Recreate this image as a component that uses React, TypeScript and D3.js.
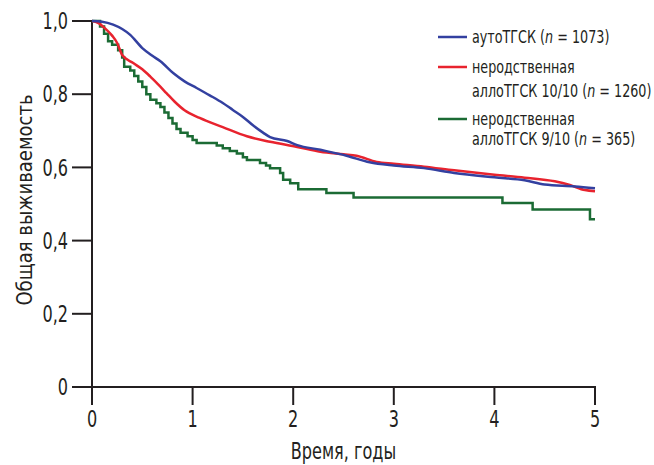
import React, { useEffect, useRef } from "react";
import * as d3 from "d3";

// time in years, overall survival
const autoT = [0, 0.1, 0.21, 0.3, 0.38, 0.5, 0.6, 0.68, 0.81, 0.92, 1.04, 1.17, 1.3, 1.4, 1.5, 1.6, 1.7, 1.77, 1.94, 2.04, 2.27, 2.53, 2.76, 3.0, 3.3, 3.6, 4.0, 4.3, 4.5, 4.8, 5.0];
const autoS = [1.0, 0.998, 0.99, 0.978, 0.962, 0.926, 0.905, 0.89, 0.857, 0.835, 0.817, 0.797, 0.776, 0.757, 0.738, 0.715, 0.695, 0.683, 0.672, 0.661, 0.648, 0.632, 0.614, 0.605, 0.598, 0.585, 0.573, 0.565, 0.553, 0.548, 0.543];

const allo10T = [0, 0.06, 0.13, 0.2, 0.25, 0.3, 0.41, 0.5, 0.58, 0.66, 0.74, 0.82, 0.92, 1.07, 1.3, 1.54, 1.77, 2.04, 2.27, 2.5, 2.63, 2.83, 3.0, 3.3, 3.6, 4.0, 4.3, 4.6, 4.75, 4.9, 5.0];
const allo10S = [1.0, 0.995, 0.98, 0.96, 0.94, 0.907, 0.885, 0.868, 0.848, 0.826, 0.803, 0.78, 0.756, 0.735, 0.71, 0.685, 0.67, 0.656, 0.643, 0.636, 0.632, 0.615, 0.61, 0.602, 0.592, 0.58, 0.572, 0.562, 0.552, 0.538, 0.535];

const allo9T = [0, 0.08, 0.12, 0.16, 0.2, 0.26, 0.3, 0.32, 0.38, 0.42, 0.46, 0.5, 0.54, 0.58, 0.64, 0.68, 0.72, 0.76, 0.8, 0.84, 0.88, 0.95, 1.0, 1.04, 1.24, 1.3, 1.37, 1.44, 1.5, 1.54, 1.67, 1.73, 1.77, 1.87, 1.9, 1.97, 2.05, 2.33, 2.6, 4.08, 4.38, 4.95, 5.0];
const allo9S = [1.0, 0.985, 0.965, 0.945, 0.935, 0.92, 0.9, 0.875, 0.865, 0.85, 0.835, 0.82, 0.8, 0.785, 0.775, 0.765, 0.75, 0.735, 0.72, 0.705, 0.695, 0.685, 0.675, 0.667, 0.66, 0.652, 0.645, 0.638, 0.628, 0.62, 0.612, 0.605, 0.598, 0.585, 0.566, 0.557, 0.54, 0.53, 0.518, 0.503, 0.485, 0.458, 0.458];

const xTicks = [0, 1, 2, 3, 4, 5];
const yTicks = [0, 0.2, 0.4, 0.6, 0.8, 1.0];

const FONT = "'DejaVu Sans', sans-serif";
const ink = "#231f20";

// no condensed face installed, so squeeze DejaVu horizontally
function label(parent: any, x: number, y: number, size: number, sx: number, anchor: string, rotate = 0) {
  const g = parent.append("g").attr("transform", `translate(${x},${y}) rotate(${rotate}) scale(${sx},1)`);
  return g.append("text")
    .attr("text-anchor", anchor)
    .attr("dy", "0.36em")
    .style("font-family", FONT)
    .style("font-size", `${size}px`)
    .attr("fill", ink);
}

const App = () => {
  const svgRef = useRef<SVGSVGElement>(null);

  useEffect(() => {
    const width = 654;
    const height = 465;
    const svg = d3.select(svgRef.current).attr("width", width).attr("height", height);
    svg.selectAll("*").remove();

    const x = d3.scaleLinear().domain([0, 5]).range([92, 595]);
    const y = d3.scaleLinear().domain([0, 1]).range([387, 21]);

    // axes
    svg.append("line").attr("x1", x(0)).attr("x2", x(0)).attr("y1", y(1)).attr("y2", 405)
      .attr("stroke", ink).attr("stroke-width", 2);
    svg.append("line").attr("x1", 72).attr("x2", x(5) + 1).attr("y1", y(0)).attr("y2", y(0))
      .attr("stroke", ink).attr("stroke-width", 2);

    yTicks.forEach((d) => {
      svg.append("line").attr("x1", 72).attr("x2", x(0)).attr("y1", y(d)).attr("y2", y(d))
        .attr("stroke", ink).attr("stroke-width", 2);
      label(svg, 68, y(d), 23, 0.7, "end").text(d === 0 ? "0" : d3.format(".1f")(d).replace(".", ","));
    });

    xTicks.forEach((d) => {
      svg.append("line").attr("x1", x(d)).attr("x2", x(d)).attr("y1", y(0)).attr("y2", 405)
        .attr("stroke", ink).attr("stroke-width", 2);
      label(svg, x(d), 419, 23, 0.7, "middle").text(d);
    });

    label(svg, (x(0) + x(5)) / 2, 451, 23, 0.7, "middle").text("Время, годы");
    label(svg, 24, (y(0) + y(1)) / 2 - 4, 22, 0.82, "middle", -90).text("Общая выживаемость");

    const series = [
      { t: allo9T, s: allo9S, color: "#1b6b34", curve: d3.curveStepAfter },
      { t: allo10T, s: allo10S, color: "#e8232e", curve: d3.curveMonotoneX },
      { t: autoT, s: autoS, color: "#3340a0", curve: d3.curveMonotoneX },
    ];
    series.forEach((ser) => {
      const pts = ser.t.map((t, i) => [t, ser.s[i]] as [number, number]);
      const line = d3.line<[number, number]>().x((d) => x(d[0])).y((d) => y(d[1])).curve(ser.curve);
      svg.append("path").attr("d", line(pts)).attr("fill", "none")
        .attr("stroke", ser.color).attr("stroke-width", 2.5);
    });

    // legend
    const legend = [
      { color: "#3340a0", y: 37, lines: [["аутоТГСК (", "n", " = 1073)"]] },
      { color: "#e8232e", y: 67, lines: [["неродственная"], ["аллоТГСК 10/10 (", "n", " = 1260)"]] },
      { color: "#1b6b34", y: 119, lines: [["неродственная"], ["аллоТГСК 9/10 (", "n", " = 365)"]] },
    ];
    legend.forEach((item, k) => {
      svg.append("line").attr("x1", 438).attr("x2", 467).attr("y1", item.y).attr("y2", item.y)
        .attr("stroke", item.color).attr("stroke-width", 2.5);
      item.lines.forEach((parts, li) => {
        const yy = item.y + (li === 0 ? 0 : k === 2 ? 20 : 24);
        const txt = label(svg, 472, yy, 17, 0.75, "start");
        parts.forEach((p, pi) => {
          txt.append("tspan").style("font-style", pi === 1 ? "italic" : "normal").text(p);
        });
      });
    });
  }, []);

  return (
    <div>
      <svg ref={svgRef} style={{ position: "absolute", left: 0, top: 0, background: "#fff" }}></svg>
    </div>
  );
};

export default App;
